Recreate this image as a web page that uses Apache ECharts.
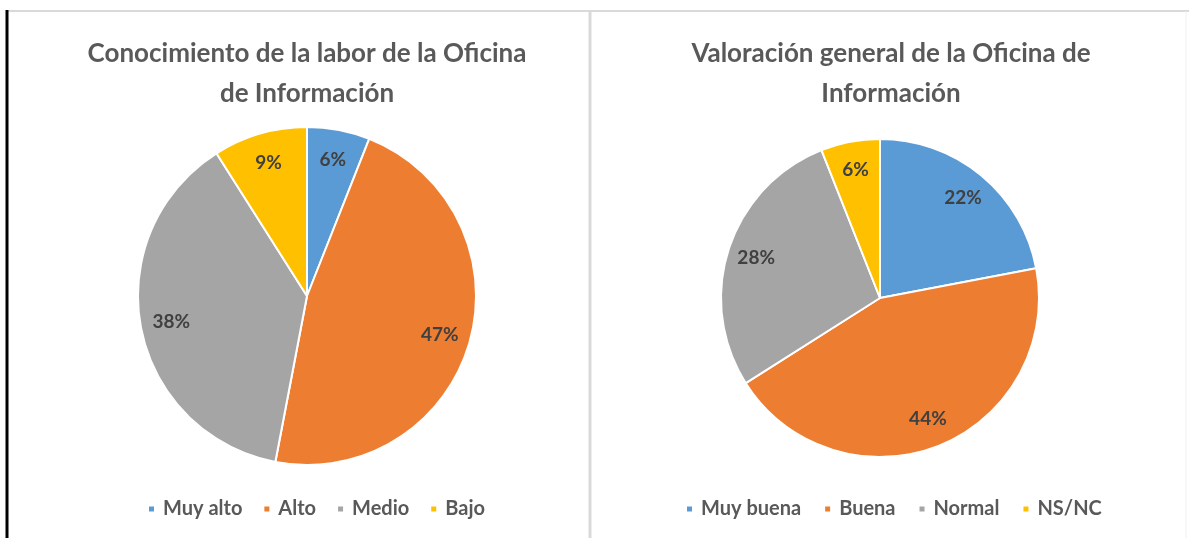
<!DOCTYPE html>
<html>
<head>
<meta charset="utf-8">
<script src="https://cdn.jsdelivr.net/npm/echarts@6/dist/echarts.min.js"></script>
<style>
html,body{margin:0;padding:0;background:#fff;}
#c{width:1189px;height:538px;}
</style>
</head>
<body>
<div id="c"></div>
<script>
const leftTitle = 'Conocimiento de la labor de la Oficina\nde Información';
const leftCategories = ['Muy alto', 'Alto', 'Medio', 'Bajo'];
const leftValues = [6, 47, 38, 9];

const rightTitle = 'Valoración general de la Oficina de\nInformación';
const rightCategories = ['Muy buena', 'Buena', 'Normal', 'NS/NC'];
const rightValues = [22, 44, 28, 6];

const colors = ['#5B9BD5', '#ED7D31', '#A5A5A5', '#FFC000'];
const FONT = 'Lato';

function toData(cats, vals) {
  return cats.map((c, i) => ({ name: c, value: vals[i], itemStyle: { color: colors[i] } }));
}

function pieSeries(cats, vals, center, r) {
  return [
    {
      type: 'pie', center: center, radius: [0, r], startAngle: 90, clockwise: true,
      data: toData(cats, vals),
      label: { show: false }, labelLine: { show: false },
      itemStyle: { borderColor: '#fff', borderWidth: 2 },
      emphasis: { disabled: true }, animation: false
    },
    {
      type: 'pie', center: center, radius: [r * 0.6, r], startAngle: 90, clockwise: true,
      data: cats.map((c, i) => ({ name: c, value: vals[i], itemStyle: { color: 'rgba(0,0,0,0)' } })),
      silent: true, emphasis: { disabled: true }, animation: false,
      label: {
        show: true, position: 'inside', formatter: '{d}%',
        fontFamily: FONT, fontWeight: 'bold', fontSize: 19, color: '#404040'
      },
      labelLine: { show: false }
    }
  ];
}

const legendText = { fontFamily: FONT, fontWeight: 'bold', fontSize: 20, color: '#595959', padding: [0, 0, 0, 3] };

const chart = echarts.init(document.getElementById('c'));
chart.setOption({
  backgroundColor: '#fff',
  animation: false,
  title: [
    { text: leftTitle, left: 302, top: 29, textAlign: 'center',
      textStyle: { fontFamily: FONT, fontWeight: 'bold', fontSize: 26, color: '#595959', lineHeight: 40 } },
    { text: rightTitle, left: 886, top: 29, textAlign: 'center',
      textStyle: { fontFamily: FONT, fontWeight: 'bold', fontSize: 26, color: '#595959', lineHeight: 40 } }
  ],
  legend: [
    { data: leftCategories, left: 142, top: 494, icon: 'rect', itemWidth: 7, itemHeight: 7, itemGap: 20,
      textStyle: legendText, selectedMode: false },
    { data: rightCategories, left: 680, top: 494, icon: 'rect', itemWidth: 7, itemHeight: 7, itemGap: 22,
      textStyle: legendText, selectedMode: false }
  ],
  series: [].concat(
    pieSeries(leftCategories, leftValues, [307, 296], 169),
    pieSeries(rightCategories, rightValues, [880, 298], 159)
  ),
  graphic: [
    { type: 'line', shape: { x1: 8, y1: 11, x2: 1189, y2: 11 }, style: { stroke: '#d9d9d9', lineWidth: 2 }, silent: true },
    { type: 'line', shape: { x1: 7, y1: 10, x2: 7, y2: 538 }, style: { stroke: '#000', lineWidth: 3 }, silent: true },
    { type: 'line', shape: { x1: 590, y1: 11, x2: 590, y2: 538 }, style: { stroke: '#d9d9d9', lineWidth: 3 }, silent: true },
    { type: 'line', shape: { x1: 1186, y1: 11, x2: 1186, y2: 538 }, style: { stroke: '#f0f0f0', lineWidth: 1 }, silent: true }
  ]
});
</script>
</body>
</html>
